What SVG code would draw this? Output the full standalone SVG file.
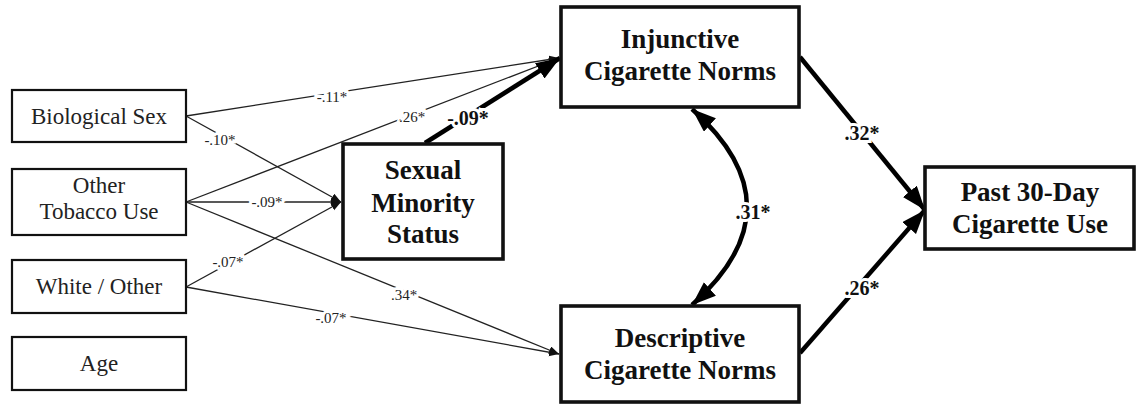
<svg xmlns="http://www.w3.org/2000/svg" width="1137" height="404" viewBox="0 0 1137 404">
<style>
.box{fill:#fff;stroke:#111;stroke-width:2.2}
.bbox{fill:#fff;stroke:#111;stroke-width:3.6}
.t{font-family:"Liberation Serif","Times New Roman",serif;font-size:23px;fill:#222;text-anchor:middle}
.bt{font-family:"Liberation Serif","Times New Roman",serif;font-size:27px;font-weight:bold;fill:#111;text-anchor:middle}
.thin{stroke:#222;stroke-width:1.3;fill:none}
.thick{stroke:#000;stroke-width:4.5;fill:none}
.lab{font-family:"Liberation Serif","Times New Roman",serif;font-size:15px;fill:#222;text-anchor:middle;stroke:#fff;stroke-width:6;paint-order:stroke}
.blab{font-family:"Liberation Serif","Times New Roman",serif;font-size:20px;font-weight:bold;fill:#111;text-anchor:middle;stroke:#fff;stroke-width:6;paint-order:stroke}
</style>
<defs>
<marker id="ah" markerUnits="userSpaceOnUse" markerWidth="26" markerHeight="20" refX="24" refY="9" orient="auto-start-reverse" viewBox="0 0 26 20">
<path d="M0,0 L24,9 L0,18 Z" fill="#000"/>
</marker>
<marker id="sh" markerUnits="userSpaceOnUse" markerWidth="12" markerHeight="10" refX="10" refY="4" orient="auto" viewBox="0 0 12 10">
<path d="M0,0 L10,4 L0,8 Z" fill="#111"/>
</marker>
</defs>
<g id="connectors">
<line class="thin" x1="186" y1="116" x2="559" y2="58" marker-end="url(#sh)"/>
<line class="thin" x1="186" y1="116" x2="341" y2="202" marker-end="url(#sh)"/>
<line class="thin" x1="186" y1="202" x2="559" y2="58" marker-end="url(#sh)"/>
<line class="thin" x1="186" y1="202" x2="341" y2="202" marker-end="url(#sh)"/>
<line class="thin" x1="186" y1="202" x2="559" y2="354" marker-end="url(#sh)"/>
<line class="thin" x1="186" y1="287" x2="341" y2="202" marker-end="url(#sh)"/>
<line class="thin" x1="186" y1="287" x2="559" y2="354" marker-end="url(#sh)"/>
<line class="thick" x1="425" y1="143" x2="560" y2="58" marker-end="url(#ah)"/>
<line class="thick" x1="800" y1="57" x2="925" y2="210" marker-end="url(#ah)"/>
<line class="thick" x1="800" y1="353" x2="925" y2="210" marker-end="url(#ah)"/>
<path class="thick" d="M692,109 Q802,207 692,305" marker-start="url(#ah)" marker-end="url(#ah)"/>
<text class="lab" x="332" y="102">-.11*</text>
<text class="lab" x="220" y="145">-.10*</text>
<text class="lab" x="412" y="122">.26*</text>
<text class="lab" x="267" y="207">-.09*</text>
<text class="lab" x="404" y="300">.34*</text>
<text class="lab" x="228" y="267">-.07*</text>
<text class="lab" x="331" y="323">-.07*</text>
<text class="blab" x="468" y="125">-.09*</text>
<text class="blab" x="862" y="140">.32*</text>
<text class="blab" x="862" y="295">.26*</text>
<text class="blab" x="753" y="219">.31*</text>
</g>
<g id="biological-sex">
<rect class="box" x="12" y="90" width="174" height="52"/>
<text class="t" x="99" y="124">Biological Sex</text>
</g>
<g id="other-tobacco-use">
<rect class="box" x="12" y="169" width="174" height="66"/>
<text class="t" x="99" y="193">Other</text>
<text class="t" x="99" y="219">Tobacco Use</text>
</g>
<g id="white-other">
<rect class="box" x="12" y="260" width="174" height="53"/>
<text class="t" x="99" y="294">White / Other</text>
</g>
<g id="age">
<rect class="box" x="12" y="337" width="174" height="53"/>
<text class="t" x="99" y="371">Age</text>
</g>
<g id="sexual-minority-status">
<rect class="bbox" x="343" y="144" width="160" height="115"/>
<text class="bt" x="423" y="179">Sexual</text>
<text class="bt" x="423" y="212">Minority</text>
<text class="bt" x="423" y="243">Status</text>
</g>
<g id="injunctive-norms">
<rect class="bbox" x="561" y="7" width="238" height="100"/>
<text class="bt" x="680" y="48">Injunctive</text>
<text class="bt" x="680" y="80">Cigarette Norms</text>
</g>
<g id="descriptive-norms">
<rect class="bbox" x="561" y="306" width="238" height="96"/>
<text class="bt" x="680" y="347">Descriptive</text>
<text class="bt" x="680" y="379">Cigarette Norms</text>
</g>
<g id="past-30-day-use">
<rect class="bbox" x="925" y="167" width="209" height="82"/>
<text class="bt" x="1030" y="201">Past 30-Day</text>
<text class="bt" x="1030" y="233">Cigarette Use</text>
</g>
</svg>
